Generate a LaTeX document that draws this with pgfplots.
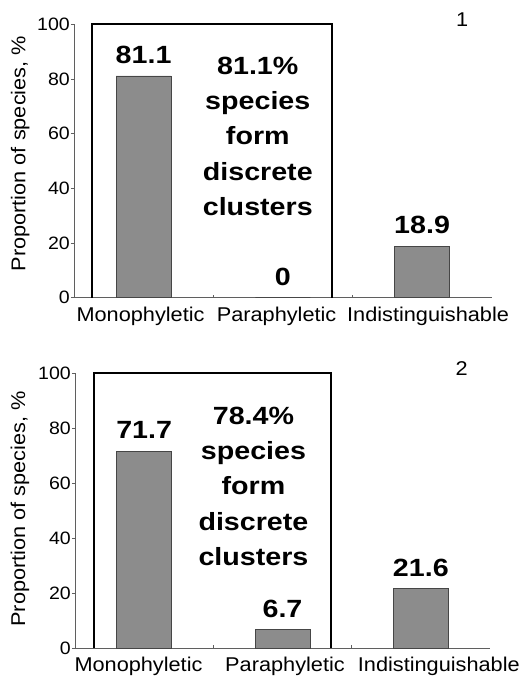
\documentclass[border=0pt]{standalone}
\usepackage{fontspec}
\setmainfont{Liberation Sans}[FakeStretch=1.09, BoldFeatures={FakeStretch=1.15}]
\usepackage{pgfplots}
\pgfplotsset{compat=1.18}
\definecolor{bargray}{RGB}{140,140,140}
\definecolor{bardraw}{RGB}{70,70,70}
\definecolor{axgray}{RGB}{95,95,95}

\pgfplotsset{
  myaxis/.style={
    scale only axis, anchor=south west,
    xmin=0, xmax=3, ymin=0, ymax=100,
    axis x line=bottom, axis y line=left,
    axis line style={-, axgray, line width=0.8bp},
    ytick={0,20,40,60,80,100},
    yticklabels={0,20,40,60,80,100},
    xtick={1,2}, xticklabels={},
    tick align=outside,
    major tick length=3bp,
    tick style={axgray, line width=0.8bp},
    xtick style={yshift=3bp},
    tick label style={font=\fontsize{18}{19}\selectfont, inner sep=1bp},
    yticklabel style={font=\fontsize{18}{19}\selectfont, inner sep=1bp},
    /pgf/number format/assume math mode=true,
    extra x tick labels={Monophyletic,Paraphyletic,Indistinguishable},
    extra x tick style={major tick length=0bp, tick label style={font=\fontsize{20}{22}\selectfont, inner sep=0bp, yshift=-9bp}},
    clip=false,
    ylabel={Proportion of species, \%},
    ylabel style={font=\fontsize{20}{22}\selectfont, anchor=center},
    ybar, bar width=55bp,
    nodes near coords,
    nodes near coords style={font=\bfseries\fontsize{25}{28}\selectfont, anchor=south, inner sep=0bp, yshift=12bp},
  },
  mybar/.style={fill=bargray, draw=bardraw, line width=0.8bp},
}

\begin{document}
\begin{tikzpicture}
\path[use as bounding box] (0bp,0bp) rectangle (523bp,682bp);

% Panel 1
\begin{axis}[myaxis, at={(74bp,384.3bp)}, width=417.7bp, height=273.4bp,
  extra x ticks={0.478,1.455,2.543},
  ylabel style={at={(axis description cs:-0.129,0.527)}}]
\addplot[mybar] coordinates {(0.5,81.1) (1.5,0) (2.5,18.9)};
\draw[black, line width=2bp] (axis cs:0.131,0) -- (axis cs:0.131,100) -- (axis cs:1.851,100) -- (axis cs:1.851,0);
\node[anchor=north, inner sep=0bp, align=center, font=\bfseries\fontsize{25}{35.5}\selectfont] at (axis cs:1.32,88.2) {81.1\%\\species\\form\\discrete\\clusters};
\node[font=\fontsize{20}{22}\selectfont] at (axis description cs:0.929,1.016) {1};
\end{axis}

% Panel 2
\begin{axis}[myaxis, at={(75bp,33.7bp)}, width=415bp, height=275bp,
  extra x ticks={0.459,1.518,2.63},
  ylabel style={at={(axis description cs:-0.1325,0.507)}}]
\addplot[mybar] coordinates {(0.5,71.7) (1.5,6.7) (2.5,21.6)};
\draw[black, line width=2bp] (axis cs:0.14,0) -- (axis cs:0.14,100) -- (axis cs:1.851,100) -- (axis cs:1.851,0);
\node[anchor=north, inner sep=0bp, align=center, font=\bfseries\fontsize{25}{35.5}\selectfont] at (axis cs:1.29,87.9) {78.4\%\\species\\form\\discrete\\clusters};
\node[font=\fontsize{20}{22}\selectfont] at (axis description cs:0.932,1.018) {2};
\end{axis}
\end{tikzpicture}
\end{document}
